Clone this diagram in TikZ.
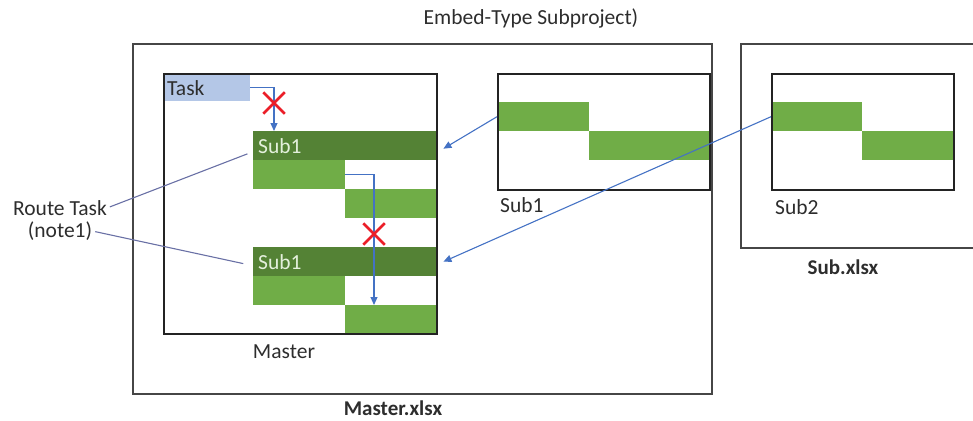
\documentclass[tikz,border=0pt]{standalone}
\usepackage{fontspec}
\setmainfont{Carlito}
\usepackage{tikz}
\usetikzlibrary{arrows.meta, positioning, shapes.misc}
\definecolor{darkgreen}{RGB}{84,130,53}
\definecolor{lightgreen}{RGB}{112,173,71}
\definecolor{taskblue}{RGB}{180,199,231}
\definecolor{linkblue}{RGB}{68,114,196}
\definecolor{notegray}{RGB}{105,112,165}
\definecolor{crossred}{RGB}{235,30,40}
\definecolor{framegray}{RGB}{70,70,70}
\definecolor{paneldark}{RGB}{35,35,35}
\definecolor{subtext}{RGB}{228,240,220}
\definecolor{labeltext}{RGB}{45,45,45}
\tikzset{
  txt/.style={font=\fontsize{21.5}{25}\selectfont, text=labeltext, inner sep=0pt},
  boldtxt/.style={font=\fontsize{21}{25}\selectfont\bfseries, text=labeltext, inner sep=0pt},
  filebox/.style={rectangle, draw=framegray, line width=2pt, anchor=north west, inner sep=0pt},
  panel/.style={rectangle, draw=paneldark, line width=1.5pt, anchor=north west, inner sep=0pt},
  bar/.style={rectangle, fill=lightgreen, anchor=north west, inner sep=0pt, minimum height=29pt},
  subbar/.style={rectangle, fill=darkgreen, anchor=north west, inner sep=0pt, minimum height=29pt},
  taskbar/.style={rectangle, fill=taskblue, anchor=north west, inner sep=0pt, minimum height=28pt},
  link/.style={-{Triangle[width=7pt,length=8pt]}, linkblue, line width=1.1pt},
  noteline/.style={notegray, line width=1.1pt},
  xmark/.style={cross out, draw=crossred, line width=2.5pt, minimum size=19pt, inner sep=0pt}
}
\begin{document}
\begin{tikzpicture}[x=1pt, y=-1pt]
  \useasboundingbox (0,0) rectangle (973,420);

  \node[txt] (title) at (531,18) {Embed-Type Subproject)};
  \node[filebox, minimum width=579pt, minimum height=350pt] (masterfile) at (132,43) {};
  \node[boldtxt] (masterxlsx) at (393,408) {Master.xlsx};
  \node[filebox, minimum width=250pt, minimum height=204pt] (subfile) at (740,43) {};
  \node[boldtxt] (subxlsx) at (843,267) {Sub.xlsx};

  % master sheet
  \node[taskbar, minimum width=87pt] (task) at (163,73) {};
  \node[txt, anchor=west] (tasklbl) at (167,88) {Task};
  \node[subbar, minimum width=183pt] (subA) at (253,131) {};
  \node[txt, anchor=west, text=subtext] (subAlbl) at (258,146) {Sub1};
  \node[bar, minimum width=92pt] (subA1) at (253,160) {};
  \node[bar, minimum width=91pt] (subA2) at (345,189) {};
  \node[subbar, minimum width=183pt] (subB) at (253,247) {};
  \node[txt, anchor=west, text=subtext] (subBlbl) at (258,262) {Sub1};
  \node[bar, minimum width=92pt] (subB1) at (253,276) {};
  \node[bar, minimum width=91pt, minimum height=28pt] (subB2) at (345,305) {};
  \node[panel, minimum width=273pt, minimum height=260pt] (master) at (163,73) {};
  \node[txt] (masterlbl) at (284,352) {Master};

  % subprojects
  \node[bar, minimum width=92pt] (one1) at (497,102) {};
  \node[bar, minimum width=120pt] (one2) at (589,131) {};
  \node[panel, minimum width=212pt, minimum height=116pt] (subone) at (497,73) {};
  \node[txt, anchor=west] (subonelbl) at (500,205) {Sub1};
  \node[bar, minimum width=91pt] (two1) at (771,102) {};
  \node[bar, minimum width=91pt] (two2) at (862,131) {};
  \node[panel, minimum width=182pt, minimum height=116pt] (subtwo) at (771,73) {};
  \node[txt, anchor=west] (subtwolbl) at (775,207) {Sub2};

  \node[txt] (noteA) at (60,208) {Route Task};
  \node[txt] (noteB) at (60,231) {(note1)};

  \draw[link] (task.east) -| ([xshift=21pt]subA.north west);
  \draw[link] (subA1.east) -| ([xshift=29pt]subB2.north west);
  \node[xmark] (crossA) at (274,103) {};
  \node[xmark] (crossB) at (374,234) {};

  \draw[link] (one1.west) -- ([xshift=7pt,yshift=-3pt]subA.east);
  \draw[link] (two1.west) -- ([xshift=7pt]subB.east);
  \draw[noteline, shorten <=3pt, shorten >=6pt] (noteA.east) -- ([yshift=-6pt]subA.west);
  \draw[noteline, shorten <=3pt, shorten >=10pt] (noteB.east) -- ([yshift=-4pt]subB.west);
\end{tikzpicture}
\end{document}
